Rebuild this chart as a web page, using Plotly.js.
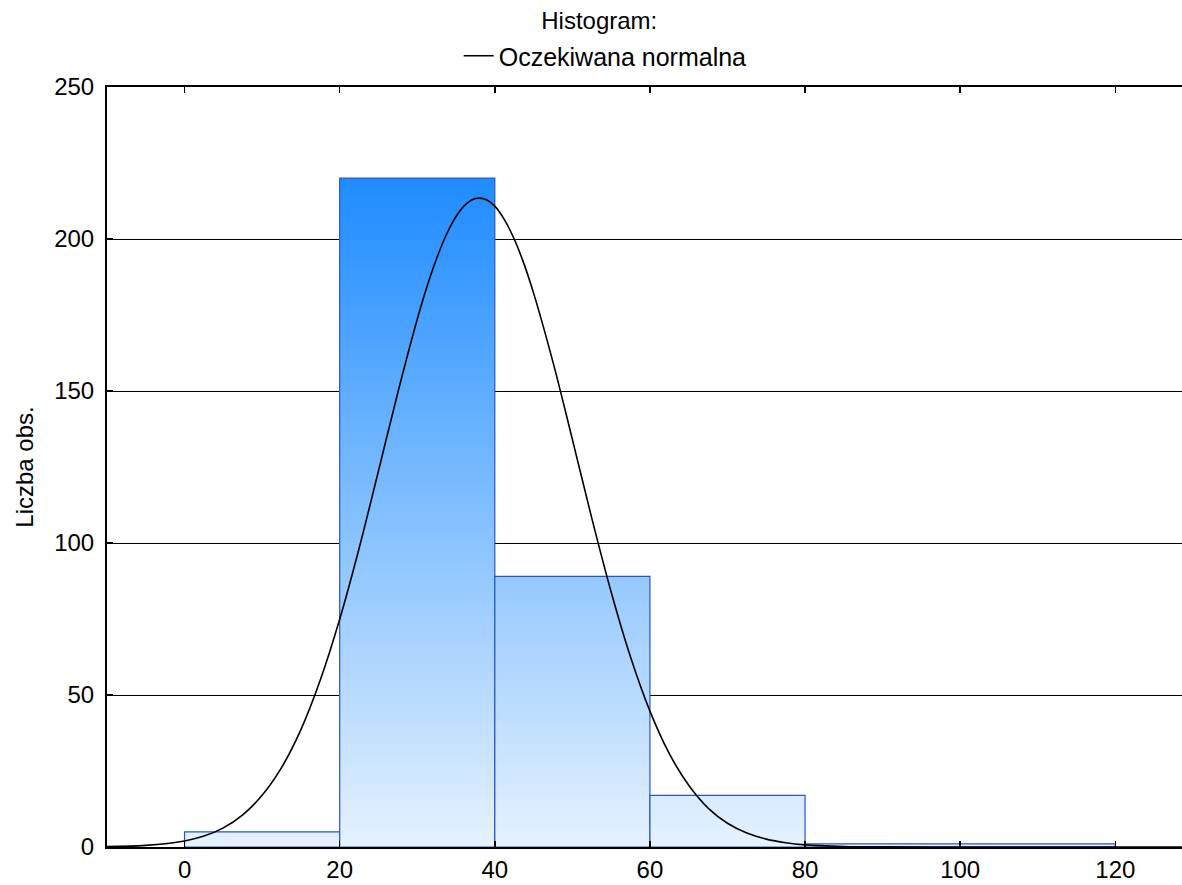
<!DOCTYPE html>
<html>
<head>
<meta charset="utf-8">
<script src="https://cdn.plot.ly/plotly-3.0.1.min.js"></script>
<style>html,body{margin:0;padding:0;background:#fff;}#chart{width:1182px;height:885px;}</style>
</head>
<body>
<div id="chart"></div>
<script>
// Histogram bins (lower/upper edges) and counts
const binStart = [0, 20, 40, 60, 80, 100];
const binEnd   = [20, 40, 60, 80, 100, 120];
const counts   = [5, 220, 89, 17, 1, 1];

// Expected normal curve
const curveX = [-10, -5, 0, 2.5, 5, 7.5, 10, 12.5, 15, 17.5, 20, 22.5, 25, 27.5, 30, 31.25, 32.5, 33.75, 35, 36.25, 37.5, 38.75, 40, 41.25, 42.5, 43.75, 45, 47.5, 50, 52.5, 55, 57.5, 60, 62.5, 65, 67.5, 70, 72.5, 75, 77.5, 80, 85, 90, 100, 110, 120, 130];
const curveY = [0.12, 0.54, 2.0, 3.6, 6.3, 10.6, 17.0, 26.1, 38.6, 54.9, 74.9, 98.2, 123.7, 149.5, 173.6, 184.3, 193.6, 201.4, 207.4, 211.4, 213.3, 213.1, 210.8, 206.3, 200.0, 191.9, 182.2, 159.5, 134.1, 108.2, 83.9, 62.5, 44.7, 30.7, 20.3, 12.8, 7.8, 4.6, 2.6, 1.4, 0.7, 0.17, 0.03, 0, 0, 0, 0];

const titleText = 'Histogram:';
const legendName = 'Oczekiwana normalna';
const yTitle = 'Liczba obs.';
const xTicks = [0, 20, 40, 60, 80, 100, 120];
const yTicks = [0, 50, 100, 150, 200, 250];

const maxCount = Math.max(...counts);
const traces = [];
for (let i = 0; i < counts.length; i++) {
  traces.push({
    type: 'scatter',
    mode: 'lines',
    x: [binStart[i], binStart[i], binEnd[i], binEnd[i], binStart[i]],
    y: [0, counts[i], counts[i], 0, 0],
    fill: 'toself',
    fillgradient: {
      type: 'vertical',
      start: 0,
      stop: maxCount,
      colorscale: [[0, '#e6f2ff'], [1, '#1e8cff']]
    },
    line: {color: '#2456cc', width: 1.2},
    showlegend: false,
    hoverinfo: 'skip'
  });
}
traces.push({
  type: 'scatter',
  mode: 'lines',
  x: curveX,
  y: curveY,
  line: {color: '#000000', width: 1.6, shape: 'spline', smoothing: 1},
  name: legendName,
  showlegend: true
});

const font = {family: '"Liberation Sans", Arial, sans-serif', size: 24, color: '#000'};
const legendFont = {family: '"Liberation Sans", Arial, sans-serif', size: 25, color: '#000'};

const layout = {
  width: 1182,
  height: 885,
  paper_bgcolor: '#ffffff',
  plot_bgcolor: '#ffffff',
  font: font,
  margin: {l: 107, r: 0, t: 87, b: 38, pad: 0},
  title: {
    text: titleText,
    font: font,
    xref: 'container', yref: 'container',
    x: 0.507, xanchor: 'center',
    y: 1 - 21 / 885, yanchor: 'middle'
  },
  showlegend: true,
  legend: {
    orientation: 'h',
    xref: 'container', yref: 'container',
    x: 0.512, xanchor: 'center',
    y: 1 - 56 / 885, yanchor: 'middle',
    font: legendFont,
    bgcolor: 'rgba(0,0,0,0)'
  },
  xaxis: {
    range: [-10, 128.6],
    tickvals: xTicks,
    ticktext: xTicks.map(String),
    ticks: 'inside',
    ticklen: 6,
    tickwidth: 1.5,
    tickcolor: '#000',
    showline: true,
    linecolor: '#000',
    linewidth: 2,
    mirror: 'ticks',
    showgrid: false,
    zeroline: false,
    tickfont: font,
    fixedrange: true
  },
  yaxis: {
    range: [0, 250],
    tickvals: yTicks,
    ticktext: yTicks.map(String),
    ticks: 'inside',
    ticklen: 6,
    tickwidth: 1.5,
    tickcolor: '#000',
    showline: true,
    linecolor: '#000',
    linewidth: 2,
    mirror: false,
    showgrid: true,
    gridcolor: '#000',
    gridwidth: 1,
    zeroline: false,
    tickfont: font,
    ticklabelstandoff: 6,
    title: {text: yTitle, font: font, standoff: 14},
    fixedrange: true
  }
};

Plotly.newPlot('chart', traces, layout, {displayModeBar: false, staticPlot: true});
</script>
</body>
</html>
